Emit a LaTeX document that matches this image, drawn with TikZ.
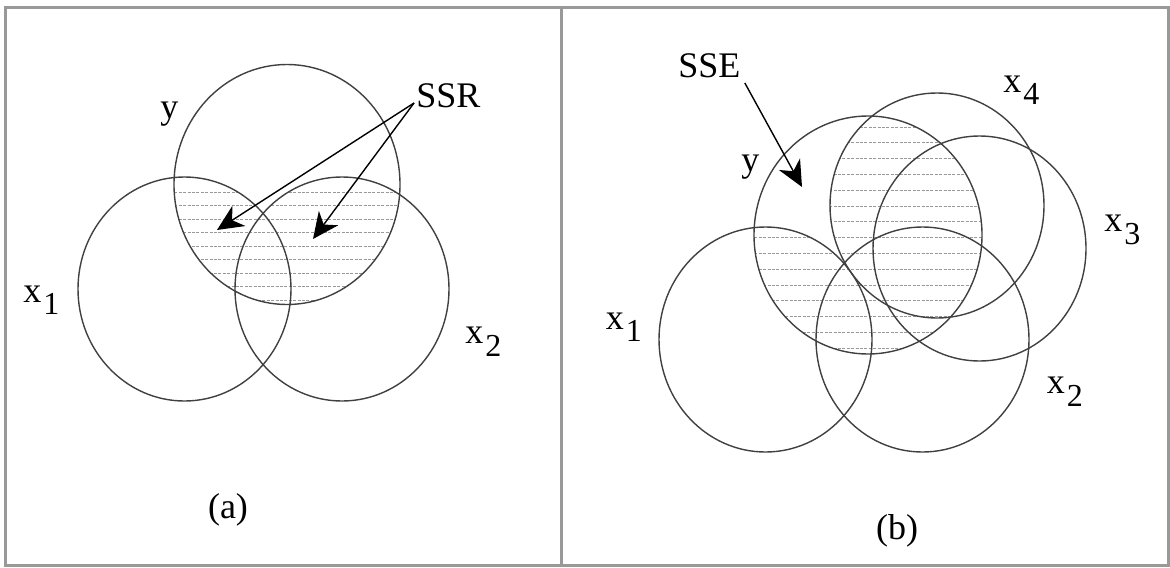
\documentclass[tikz,border=0pt]{standalone}
\usepackage{fontspec}
\setmainfont{Liberation Serif}
\usepackage{tikz}
\usetikzlibrary{arrows.meta}

% label x with a lowered index
\newcommand{\xsub}[1]{x\hspace{1pt}\raisebox{-6.25pt}{\fontsize{16}{16}\selectfont #1}}

\begin{document}
\begin{tikzpicture}[
    x=0.5pt, y=-0.5pt,
    font=\fontsize{18}{20}\selectfont,
    frame/.style={draw=black!40, line width=1.5pt},
    ring/.style={draw=black!75, line width=0.7pt},
    hatch/.style={draw=black!40, line width=0.4pt, dash pattern=on 1.5pt off 0.7pt},
    lab/.style={inner sep=0pt, anchor=base west},
    pointer/.style={-{Stealth[length=13pt,width=12pt,inset=4pt]}, line width=0.7pt}
]
\useasboundingbox (0,0) rectangle (1170,567);
\draw[frame] (5.5,7.5) rectangle (1168.5,565.5);
\draw[frame] (561,7.5) -- (561,565.5);

% panel (a)
\foreach \cx/\cy in {184.5/289, 342/289} {
  \begin{scope}
    \clip (287,184.5) ellipse [x radius=113, y radius=120];
    \clip (\cx,\cy) ellipse [x radius=107, y radius=112];
    \foreach \r in {192,205.5,...,306} \draw[hatch] (170,\r) -- (405,\r);
  \end{scope}
}
\draw[ring] (287,184.5) ellipse [x radius=113, y radius=120];
\draw[ring] (184.5,289) ellipse [x radius=106.5, y radius=112];
\draw[ring] (342,289) ellipse [x radius=107, y radius=112];

\node[lab] (ya) at (160,119) {y};
\node[lab] (ssr) at (416,107) {SSR};
\node[lab] (x1a) at (23,302) {\xsub{1}};
\node[lab] (x2a) at (465,343.5) {\xsub{2}};
\node[inner sep=0pt, anchor=base] (capa) at (228,518) {(a)};

\coordinate (tipL) at (217,230);
\coordinate (tipR) at (313,239);
\draw[pointer] ([shift={(-2,-4)}]ssr.base west) -- (tipL);
\draw[pointer] ([shift={(-2,-4)}]ssr.base west) -- (tipR);

% panel (b)
\foreach \cx/\cy in {765.5/339.5, 922.5/339.5, 979.5/248.5, 937/205.5} {
  \begin{scope}
    \clip (868,235) ellipse [x radius=114, y radius=119];
    \clip (\cx,\cy) ellipse [x radius=107, y radius=112.5];
    \foreach \r in {127,142.8,...,356} \draw[hatch] (750,\r) -- (985,\r);
  \end{scope}
}
\draw[ring] (868,235) ellipse [x radius=114, y radius=119];
\draw[ring] (937,205.5) ellipse [x radius=107, y radius=112.5];
\draw[ring] (979.5,248.5) ellipse [x radius=106.5, y radius=112.5];
\draw[ring] (922.5,339.5) ellipse [x radius=106.5, y radius=112.5];
\draw[ring] (765.5,339.5) ellipse [x radius=106.5, y radius=112.5];

\node[lab] (sse) at (678,77) {SSE};
\node[lab] (yb) at (741,171) {y};
\node[lab] (x4b) at (1003,92) {\xsub{4}};
\node[lab] (x3b) at (1104,231.5) {\xsub{3}};
\node[lab] (x2b) at (1046.5,393.5) {\xsub{2}};
\node[lab] (x1b) at (605.5,329) {\xsub{1}};
\node[inner sep=0pt, anchor=base] (capb) at (897,539) {(b)};

\coordinate (tipE) at (802,187);
\draw[pointer] ([shift={(4,6)}]sse.base east) -- (tipE);
\end{tikzpicture}
\end{document}
